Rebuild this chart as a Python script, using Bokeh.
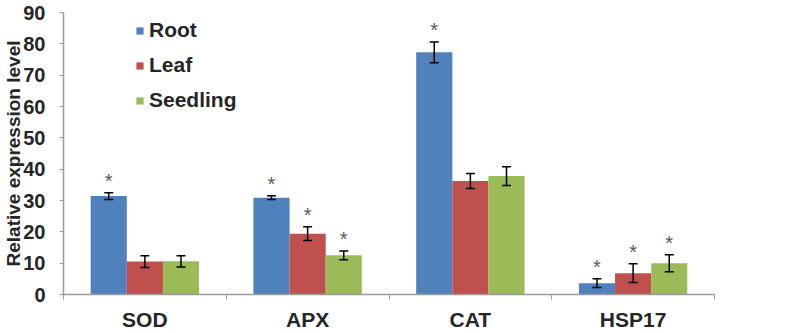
import math
from bokeh.plotting import figure
from bokeh.models import (ColumnDataSource, Range1d, FixedTicker, Whisker, TeeHead,
                          Legend, LegendItem)
from bokeh.core.properties import value
from bokeh.embed import file_html
from bokeh.resources import INLINE

# ---------------- data ----------------
categories = ["SOD", "APX", "CAT", "HSP17"]
series_names = ["Root", "Leaf", "Seedling"]

root = [31.4, 30.9, 77.3, 3.6]
root_err = [1.1, 0.6, 3.3, 1.4]
root_sig = [True, True, True, True]

leaf = [10.5, 19.4, 36.2, 6.8]
leaf_err = [1.9, 2.2, 2.4, 3.0]
leaf_sig = [False, True, False, True]

seedling = [10.6, 12.5, 37.8, 10.0]
seedling_err = [1.8, 1.4, 3.0, 2.7]
seedling_sig = [False, True, False, True]

y_ticks = [0, 10, 20, 30, 40, 50, 60, 70, 80, 90]
y_title = "Relative expression level"

colors = ["#4F81BD", "#C0504D", "#9BBB59"]
FONT = "Liberation Sans"
TXT = "#262626"
AX = "#9a9a9a"

# ---------------- figure ----------------
p = figure(width=807, height=333, x_range=Range1d(0, len(categories)), y_range=Range1d(0, 90),
           output_backend="svg", toolbar_location=None,
           min_border_left=62, min_border_right=93, min_border_top=12, min_border_bottom=37)
p.outline_line_color = None
p.xgrid.visible = False
p.ygrid.visible = False
p.background_fill_color = "white"
p.border_fill_color = "white"

bar_w = 0.222
offsets = [-bar_w, 0.0, bar_w]
all_vals = [root, leaf, seedling]
all_errs = [root_err, leaf_err, seedling_err]
all_sig = [root_sig, leaf_sig, seedling_sig]

renderers = []
for k in range(3):
    xs = [i + 0.5 + offsets[k] for i in range(len(categories))]
    vals = all_vals[k]
    errs = all_errs[k]
    src = ColumnDataSource(dict(
        x=xs, top=vals,
        lower=[v - e for v, e in zip(vals, errs)],
        upper=[v + e for v, e in zip(vals, errs)],
    ))
    r = p.vbar(x="x", top="top", bottom=0, width=bar_w, source=src,
               fill_color=colors[k], line_color=None)
    renderers.append(r)
    w = Whisker(base="x", lower="lower", upper="upper", source=src,
                line_color="black", line_width=1.5, level="annotation",
                upper_head=TeeHead(size=9, line_color="black", line_width=1.5),
                lower_head=TeeHead(size=9, line_color="black", line_width=1.5))
    p.add_layout(w)
    sx = [x for x, s in zip(xs, all_sig[k]) if s]
    sy = [v + e for v, e, s in zip(vals, errs, all_sig[k]) if s]
    p.text(x=sx, y=sy, text=["*"] * len(sx), text_align="center", text_baseline="alphabetic",
           y_offset=-12, text_font=value(FONT), text_font_size="20px", text_color="#5a5a5a")

# ---------------- axes ----------------
xa = p.xaxis[0]
xa.ticker = FixedTicker(ticks=[i + 0.5 for i in range(len(categories))],
                        minor_ticks=list(range(len(categories) + 1)))
xa.major_label_overrides = {i + 0.5: c for i, c in enumerate(categories)}
xa.major_tick_out = 0
xa.major_tick_in = 0
xa.minor_tick_out = 5
xa.minor_tick_in = 0
xa.axis_line_color = AX
xa.minor_tick_line_color = AX
xa.axis_line_width = 1.5
xa.major_label_standoff = 8
xa.major_label_text_font = FONT
xa.major_label_text_font_style = "bold"
xa.major_label_text_font_size = "21px"
xa.major_label_text_color = TXT

ya = p.yaxis[0]
ya.ticker = FixedTicker(ticks=y_ticks)
ya.minor_tick_line_color = None
ya.major_tick_out = 4
ya.major_tick_in = 0
ya.axis_line_color = AX
ya.major_tick_line_color = AX
ya.axis_line_width = 1.5
ya.major_label_standoff = 14
ya.major_label_text_font = FONT
ya.major_label_text_font_style = "bold"
ya.major_label_text_font_size = "20px"
ya.major_label_text_color = TXT
ya.axis_label = y_title
ya.axis_label_standoff = -4
ya.axis_label_text_font = FONT
ya.axis_label_text_font_style = "bold"
ya.axis_label_text_font_size = "19px"
ya.axis_label_text_color = TXT

# ---------------- legend ----------------
legend = Legend(items=[LegendItem(label=n, renderers=[r]) for n, r in zip(series_names, renderers)],
                location=(72, 182), glyph_width=9, glyph_height=9, label_standoff=5,
                spacing=11, padding=0, margin=0, border_line_color=None,
                background_fill_alpha=0, label_text_font=FONT, label_text_font_style="bold",
                label_text_font_size="21px", label_text_color=TXT, label_text_baseline="middle")
p.add_layout(legend)

open("out.html", "w").write(file_html(p, INLINE))
